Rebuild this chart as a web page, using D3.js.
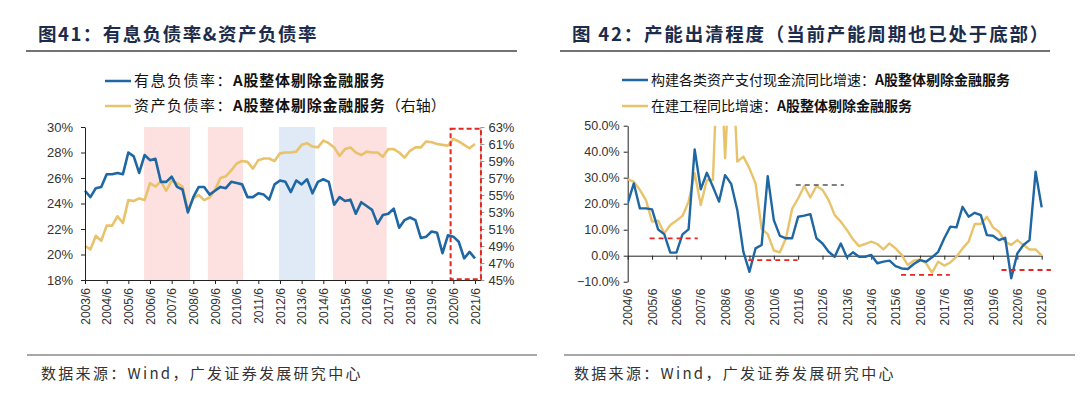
<!DOCTYPE html>
<html><head><meta charset="utf-8">
<script src="https://cdn.jsdelivr.net/npm/d3@7/dist/d3.min.js"></script>
<style>body{margin:0;background:#fff}svg{display:block}</style>
</head><body><svg id="c" width="1080" height="399"></svg>
<script>
// ---------------- DATA ----------------
// Left chart (图41): quarterly, 2003/6 .. 2021/6
const leftTickLabels = ["2003/6","2004/6","2005/6","2006/6","2007/6","2008/6","2009/6","2010/6","2011/6","2012/6","2013/6","2014/6","2015/6","2016/6","2017/6","2018/6","2019/6","2020/6","2021/6"];
const interestDebtRatio = [25.0,24.5,25.2,25.3,26.3,26.3,26.4,26.3,28.0,27.7,
  26.4,27.8,27.4,27.5,25.7,25.7,26.1,25.3,25.1,23.3,
  24.5,25.3,25.3,24.7,25.0,25.3,25.2,25.7,25.6,25.5,
  24.5,24.5,24.8,24.7,24.3,25.5,25.8,25.7,24.9,25.8,
  25.5,25.9,24.8,25.7,25.9,25.7,23.9,24.5,24.2,24.3,
  23.2,24.1,23.8,23.5,22.4,23.1,23.2,23.6,22.1,22.7,
  22.9,22.7,21.3,21.4,21.8,21.7,20.1,21.5,21.4,21.0,
  19.7,20.2,19.7];
const assetDebtRatio = [49.0,48.6,50.2,49.6,51.4,51.4,52.5,51.7,54.4,54.3,
  54.6,54.4,56.4,56.0,56.6,55.5,56.7,56.4,56.0,53.2,
  54.6,55.0,54.4,54.7,55.6,57.0,57.2,57.9,58.7,59.0,
  58.9,58.1,59.1,59.3,59.3,59.0,59.9,60.0,60.0,60.1,
  60.9,61.1,60.7,60.6,61.4,61.1,60.6,59.6,60.4,60.6,
  60.0,59.7,60.1,60.0,60.0,59.5,60.4,60.4,60.0,59.4,
  60.2,60.6,60.6,61.3,61.2,61.0,60.9,60.8,61.6,61.3,
  60.9,60.5,61.0];
const leftYTicks = [18,20,22,24,26,28,30];
const rightYTicks = [45,47,49,51,53,55,57,59,61,63];
// shaded periods, in quarters counted from 2003/6
const bandStart = [10.9, 22.7, 35.8, 45.8];
const bandEnd   = [19.4, 29.2, 42.5, 55.7];
const bandKind  = ["pink","pink","blue","pink"];
// red dashed box (quarters from 2003/6, right-axis %)
const boxQuarters = [67.5, 73.1];
const boxValues = [45.1, 62.8];

// Right chart (图42): quarterly, 2004/6 .. 2021/6
const rightTickLabels = ["2004/6","2005/6","2006/6","2007/6","2008/6","2009/6","2010/6","2011/6","2012/6","2013/6","2014/6","2015/6","2016/6","2017/6","2018/6","2019/6","2020/6","2021/6"];
const capexCashGrowth = [20.1,27.8,18.2,18.2,17.8,10.1,8.3,1.2,1.2,8.2,
  10.1,40.9,25.5,31.9,26.5,20.8,31.0,27.6,17.6,1.5,
  -6.2,2.8,4.1,30.6,13.7,7.6,6.7,6.7,15.0,15.4,
  16.0,6.7,4.7,1.5,-0.4,4.7,-0.6,1.3,-0.4,-0.4,
  0.3,-2.9,-2.3,-1.9,-4.0,-4.9,-5.1,-3.2,-1.7,-2.3,
  -0.6,1.5,6.7,11.2,10.9,18.8,15.0,16.5,15.6,7.9,
  7.7,6.0,6.9,-8.7,0.9,4.1,6.0,32.3,18.6];
const cipGrowth = [29.4,28.5,25.3,21.4,13.1,13.5,8.6,11.8,13.5,15.3,
  20.8,31.7,19.5,29.1,29.1,90,37.5,85,36.2,38.1,
  33.6,27.8,10.3,8.3,2.0,1.3,6.7,18.0,22.1,26.8,
  22.4,26.8,25.3,21.4,15.6,13.1,9.9,6.3,3.7,4.5,
  5.4,4.5,2.4,4.7,2.8,0.3,-3.6,-1.9,-1.4,-2.9,
  -6.5,-2.3,-3.8,-2.6,-0.4,2.8,5.4,12.2,12.2,15.0,
  10.9,9.2,5.4,4.1,6.0,4.1,2.4,2.4,0.0];
const r2YTicks = [-10,0,10,20,30,40,50];
// dashed reference segments (quarters from 2004/6, value %)
const refFrom  = [3.6, 19.8, 27.6, 44.9, 61.4];
const refTo    = [11.5, 27.9, 35.5, 52.9, 69.5];
const refValue = [6.7, -1.7, 27.2, -7.4, -5.5];
const refColor = ["red","red","gray","red","red"];

// ---------------- STYLE ----------------
const C = {blue:"#1f67a3", yellow:"#e8c36c", pink:"#fde1e1", lblue:"#dfeaf6", red:"#e3261f", gray:"#555",
  title:"#1c2c4c", text:"#333", axis:"#222"};
const CJK = "'Noto Sans CJK SC','Noto Sans',sans-serif";
const LAT = "'Liberation Sans',Arial,sans-serif";

const svg = d3.select("#c");
svg.append("rect").attr("width",1080).attr("height",399).attr("fill","#fff");

// ---------------- Titles / underline / footer ----------------
function header(x0, x1, tx, title, size, spacing){
  svg.append("text").attr("x",tx).attr("y",41).attr("fill",C.title)
    .style("font-family",CJK).style("font-size",size+"px").style("font-weight","bold")
    .style("letter-spacing",spacing+"px").text(title);
  svg.append("line").attr("x1",x0).attr("x2",x1).attr("y1",51).attr("y2",51)
    .attr("stroke","#444").attr("stroke-width",1.5);
}
header(26,517,38,"图41：有息负债率&资产负债率",18.5,1.5);
header(560,1050,572,"图 42：产能出清程度（当前产能周期也已处于底部）",18.5,1.8);

function footer(x0,x1,tx){
  svg.append("line").attr("x1",x0).attr("x2",x1).attr("y1",355).attr("y2",355)
    .attr("stroke","#8a8a8a").attr("stroke-width",1.5);
  svg.append("text").attr("x",tx).attr("y",379).attr("fill",C.text)
    .style("font-family",CJK).style("font-size","15px").style("letter-spacing","2.3px")
    .text("数据来源：Wind，广发证券发展研究中心");
}
footer(27,537,41);
footer(564,1075,574);

// legend
function legendItem(x, y, color, size, parts){
  svg.append("line").attr("x1",x).attr("x2",x+26).attr("y1",y).attr("y2",y)
    .attr("stroke",color).attr("stroke-width",2.5);
  const t = svg.append("text").attr("x",x+29).attr("y",y+5).attr("fill","#111")
    .style("font-family",CJK).style("font-size",size+"px");
  parts.forEach(p=>{
    t.append("tspan").text(p.t).style("font-weight",p.b?"bold":"normal")
      .style("letter-spacing",(p.s||0)+"px");
  });
}
legendItem(105,81,C.blue,15,[{t:"有息负债率：",s:1.5},{t:"A股整体剔除金融服务",b:true,s:0.8}]);
legendItem(105,106,C.yellow,15,[{t:"资产负债率：",s:1.5},{t:"A股整体剔除金融服务",b:true,s:0.8},{t:"（右轴）",s:0}]);
legendItem(622,80,C.blue,14,[{t:"构建各类资产支付现金流同比增速：",s:0},{t:"A股整体剔除金融服务",b:true}]);
legendItem(622,106,C.yellow,14,[{t:"在建工程同比增速：",s:0},{t:"A股整体剔除金融服务",b:true}]);

// ---------------- LEFT CHART ----------------
(function(){
  const top=127, bottom=280, left=85, right=480.4;
  const x = d3.scaleLinear().domain([0, 73]).range([left, right]);
  const yL = d3.scaleLinear().domain([18, 30]).range([bottom, top]);
  const yR = d3.scaleLinear().domain([45, 63]).range([bottom, top]);
  const g = svg.append("g");

  bandStart.forEach((s,i)=>{
    g.append("rect").attr("x",x(s)).attr("width",x(bandEnd[i])-x(s))
      .attr("y",top).attr("height",bottom-top)
      .attr("fill", bandKind[i]==="pink"?C.pink:C.lblue);
  });

  const lineL = d3.line().x((d,i)=>x(i)).y(d=>yL(d));
  const lineR = d3.line().x((d,i)=>x(i)).y(d=>yR(d));
  g.append("path").datum(assetDebtRatio).attr("d",lineR).attr("fill","none")
    .attr("stroke",C.yellow).attr("stroke-width",2.6).attr("stroke-linejoin","round");
  g.append("path").datum(interestDebtRatio).attr("d",lineL).attr("fill","none")
    .attr("stroke",C.blue).attr("stroke-width",2.6).attr("stroke-linejoin","round");

  // axes
  const ax = g.append("g").attr("transform",`translate(${left},0)`)
    .call(d3.axisLeft(yL).tickValues(leftYTicks).tickFormat(d=>d+"%").tickSize(4).tickSizeOuter(0).tickPadding(8));
  const ar = g.append("g").attr("transform",`translate(${right},0)`)
    .call(d3.axisRight(yR).tickValues(rightYTicks).tickFormat(d=>d+"%").tickSize(4).tickSizeOuter(0).tickPadding(4));
  const tickIdx = leftTickLabels.map((d,i)=>i*4);
  const axb = g.append("g").attr("transform",`translate(0,${bottom})`)
    .call(d3.axisBottom(x).tickValues(tickIdx).tickFormat((d,i)=>leftTickLabels[i]).tickSize(4).tickSizeOuter(0));
  axb.selectAll("text").attr("transform","rotate(-90)").attr("text-anchor","end")
    .attr("x",-8).attr("y",0).attr("dy","0.35em");
  [ax,ar,axb].forEach(a=>{
    a.selectAll("text").style("font-family",LAT).style("font-size","13px").attr("fill",C.text);
    a.selectAll("line").attr("stroke",C.axis);
    a.select(".domain").attr("stroke",C.axis);
  });
  axb.selectAll("text").style("font-size","12px");
  ar.select(".domain").attr("stroke","#999");
  ar.selectAll("line").attr("stroke","#999");

  // red dashed box
  g.append("rect").attr("x",x(boxQuarters[0])).attr("width",x(boxQuarters[1])-x(boxQuarters[0]))
    .attr("y",yR(boxValues[1])).attr("height",yR(boxValues[0])-yR(boxValues[1]))
    .attr("fill","none").attr("stroke",C.red).attr("stroke-width",2).attr("stroke-dasharray","5,3");
})();

// ---------------- RIGHT CHART ----------------
(function(){
  const top=125.7, bottom=281.7, left=627.7, right=1041.7;
  const x = d3.scaleLinear().domain([0, 68]).range([left, right]);
  const y = d3.scaleLinear().domain([-10, 50]).range([bottom, top]);
  const g = svg.append("g");
  svg.append("clipPath").attr("id","clipR").append("rect")
    .attr("x",left).attr("y",top).attr("width",right-left+20).attr("height",bottom-top);

  const ax = g.append("g").attr("transform",`translate(${left},0)`)
    .call(d3.axisLeft(y).tickValues(r2YTicks).tickFormat(d=>d3.format(".1f")(d)+"%").tickSize(4).tickSizeOuter(0).tickPadding(4));
  const tickIdx = rightTickLabels.map((d,i)=>i*4);
  const axb = g.append("g").attr("transform",`translate(0,${y(0)})`)
    .call(d3.axisBottom(x).tickValues(tickIdx).tickFormat((d,i)=>rightTickLabels[i]).tickSize(4).tickSizeOuter(0));
  axb.selectAll("text").attr("transform","rotate(-90)").attr("text-anchor","end")
    .attr("x",-(bottom - y(0) + 7)).attr("y",0).attr("dy","0.35em");
  [ax,axb].forEach(a=>{
    a.selectAll("text").style("font-family",LAT).style("font-size","12.5px").attr("fill",C.text);
    a.selectAll("line").attr("stroke",C.axis);
    a.select(".domain").attr("stroke",C.axis);
  });
  axb.selectAll("text").style("font-size","12px");

  const line = d3.line().x((d,i)=>x(i)).y(d=>y(d));
  const lg = g.append("g").attr("clip-path","url(#clipR)");
  lg.append("path").datum(cipGrowth).attr("d",line).attr("fill","none")
    .attr("stroke",C.yellow).attr("stroke-width",2.4).attr("stroke-linejoin","round");
  lg.append("path").datum(capexCashGrowth).attr("d",line).attr("fill","none")
    .attr("stroke",C.blue).attr("stroke-width",2.4).attr("stroke-linejoin","round");

  refFrom.forEach((f,i)=>{
    g.append("line").attr("x1",x(f)).attr("x2",x(refTo[i])).attr("y1",y(refValue[i])).attr("y2",y(refValue[i]))
      .attr("stroke",refColor[i]==="red"?C.red:C.gray).attr("stroke-width",refColor[i]==="red"?1.8:1.3)
      .attr("stroke-dasharray","5,4");
  });
})();
</script></body></html>
